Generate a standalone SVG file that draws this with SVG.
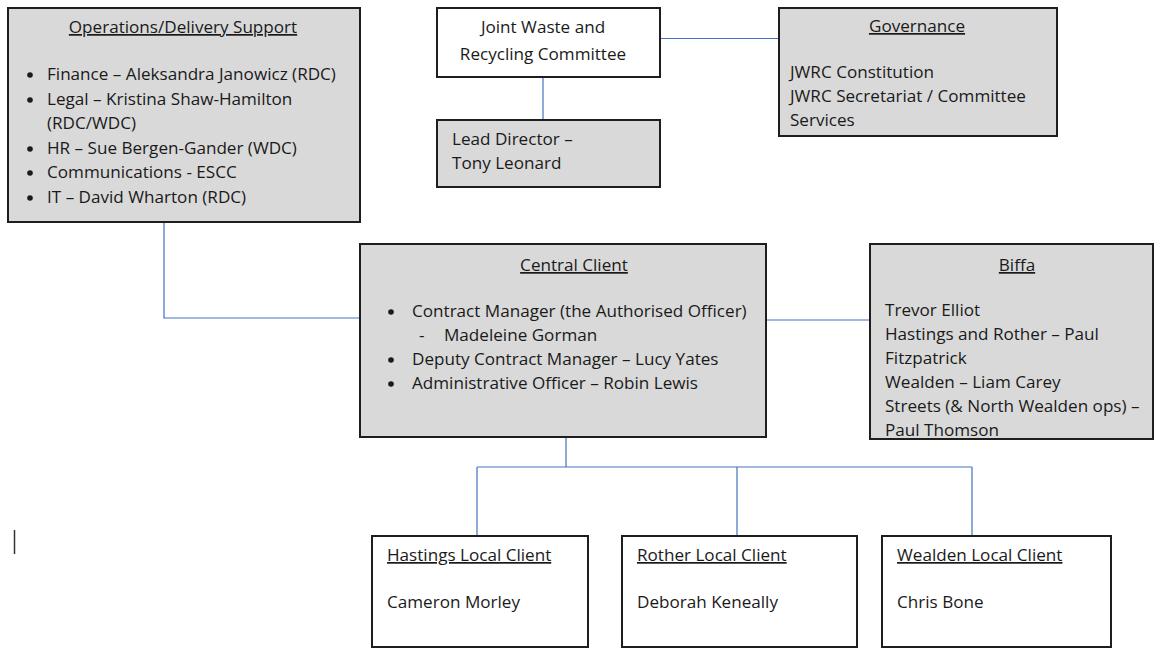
<svg xmlns="http://www.w3.org/2000/svg" width="1155" height="648" viewBox="0 0 1155 648">
<style>
.box{stroke:#1e1e1e;stroke-width:2}
.g{fill:#d9d9d9}
.w{fill:#ffffff}
.t{font-family:"Open Sans","Liberation Sans",sans-serif;font-size:17.1px;fill:#1a1a1a}
.c{text-anchor:middle}
.u{text-decoration:underline}
.con{stroke:#4472c4;stroke-width:1.2;fill:none}
.b{fill:#1a1a1a}
</style>
<rect width="1155" height="648" fill="#ffffff"/>
<g id="connectors">
<path class="con" d="M164,222 V318 H360"/>
<path class="con" d="M543,77 V120"/>
<path class="con" d="M660,38.5 H779"/>
<path class="con" d="M766,320 H870"/>
<path class="con" d="M566,437 V467 M477,467 H972 M477,467 V536 M737,467 V536 M972,467 V536"/>
</g>
<g id="ops">
<rect class="box g" x="8" y="8" width="352" height="214"/>
<text class="t c u" x="183" y="33">Operations/Delivery Support</text>
<circle class="b" cx="30" cy="75" r="2.8"/>
<circle class="b" cx="30" cy="100" r="2.8"/>
<circle class="b" cx="30" cy="149" r="2.8"/>
<circle class="b" cx="30" cy="173" r="2.8"/>
<circle class="b" cx="30" cy="198" r="2.8"/>
<g class="t">
<text x="47" y="80">Finance – Aleksandra Janowicz (RDC)</text>
<text x="47" y="105">Legal – Kristina Shaw-Hamilton</text>
<text x="47" y="129">(RDC/WDC)</text>
<text x="47" y="154">HR – Sue Bergen-Gander (WDC)</text>
<text x="47" y="178">Communications - ESCC</text>
<text x="47" y="203">IT – David Wharton (RDC)</text>
</g>
</g>
<g id="jwrc">
<rect class="box w" x="437" y="8" width="223" height="69"/>
<text class="t c" x="543" y="33">Joint Waste and</text>
<text class="t c" x="543" y="60">Recycling Committee</text>
</g>
<g id="lead">
<rect class="box g" x="437" y="120" width="223" height="67"/>
<text class="t" x="452" y="145">Lead Director –</text>
<text class="t" x="452" y="169">Tony Leonard</text>
</g>
<g id="governance">
<rect class="box g" x="779" y="8" width="278" height="128"/>
<text class="t c u" x="917" y="32">Governance</text>
<text class="t" x="790" y="78">JWRC Constitution</text>
<text class="t" x="790" y="102">JWRC Secretariat / Committee</text>
<text class="t" x="790" y="126">Services</text>
</g>
<g id="central">
<rect class="box g" x="360" y="244" width="406" height="193"/>
<text class="t c u" x="574" y="271">Central Client</text>
<circle class="b" cx="391" cy="312" r="2.8"/>
<circle class="b" cx="391" cy="360" r="2.8"/>
<circle class="b" cx="391" cy="384" r="2.8"/>
<g class="t">
<text x="412" y="317">Contract Manager (the Authorised Officer)</text>
<text x="419" y="341">-</text><text x="444" y="341">Madeleine Gorman</text>
<text x="412" y="365">Deputy Contract Manager – Lucy Yates</text>
<text x="412" y="389">Administrative Officer – Robin Lewis</text>
</g>
</g>
<g id="biffa">
<rect class="box g" x="870" y="244" width="283" height="195"/>
<text class="t c u" x="1017" y="271">Biffa</text>
<g class="t">
<text x="885" y="316">Trevor Elliot</text>
<text x="885" y="340">Hastings and Rother – Paul</text>
<text x="885" y="364">Fitzpatrick</text>
<text x="885" y="388">Wealden – Liam Carey</text>
<text x="885" y="412">Streets (&amp; North Wealden ops) –</text>
<text x="885" y="436">Paul Thomson</text>
</g>
</g>
<g id="hastings">
<rect class="box w" x="372" y="536" width="216" height="111"/>
<text class="t u" x="387" y="561">Hastings Local Client</text>
<text class="t" x="387" y="608">Cameron Morley</text>
</g>
<g id="rother">
<rect class="box w" x="622" y="536" width="235" height="111"/>
<text class="t u" x="637" y="561">Rother Local Client</text>
<text class="t" x="637" y="608">Deborah Keneally</text>
</g>
<g id="wealden">
<rect class="box w" x="882" y="536" width="229" height="111"/>
<text class="t u" x="897" y="561">Wealden Local Client</text>
<text class="t" x="897" y="608">Chris Bone</text>
</g>
<line x1="14.5" y1="530" x2="14.5" y2="554" stroke="#333" stroke-width="1.5"/>
</svg>
